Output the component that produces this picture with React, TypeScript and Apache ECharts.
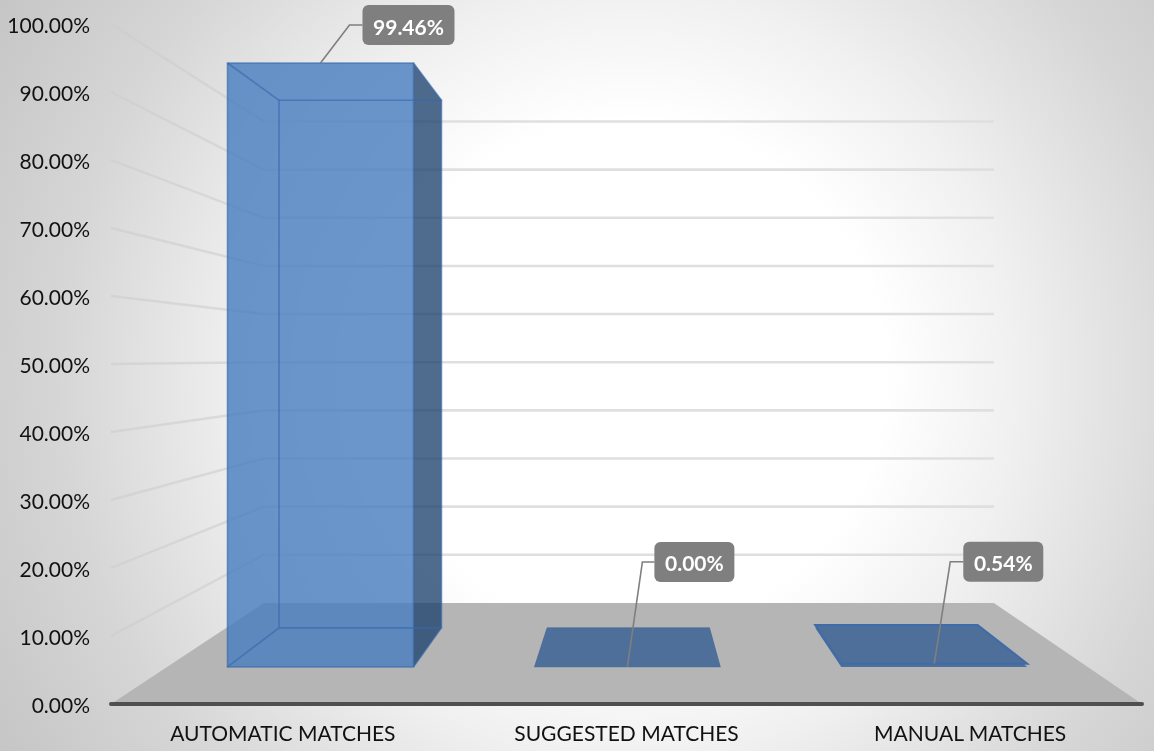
import React, { useEffect, useRef } from "react";
import * as echarts from "echarts";

const categories = ["AUTOMATIC MATCHES", "SUGGESTED MATCHES", "MANUAL MATCHES"];
const shares = [99.46, 0.0, 0.54];
const gridTicks = [10, 20, 30, 40, 50, 60, 70, 80, 90, 100];

// perspective set-up of the 3D plot (fractions of the plot area)
const VP_X = 0.508;
const VP_Y = 0.491;
const S_BACK_WALL = 0.708;
const S_BAR_FRONT = 0.893;
const S_BAR_BACK = 0.78;
const BAR_WIDTH = 0.606;
// leader elbow and label box offsets from each bar's front-top centre
const leaderOffsets = [
  { dx: 29, dy: -38, box: 42 },
  { dx: 15, dy: -105, box: 27 },
  { dx: 16, dy: -102, box: 29 },
];

const FONT = "Lato, Carlito, sans-serif";

function projector(cs: any) {
  const vx = cs.x + VP_X * cs.width;
  const vy = cs.y + VP_Y * cs.height;
  return (p: number[], s: number) => [vx + s * (p[0] - vx), vy + s * (p[1] - vy)];
}

const renderFloor = (params: any, api: any) => {
  const cs = params.coordSys;
  const pr = projector(cs);
  const bottom = api.coord([0, 0])[1];
  const l = [cs.x, bottom];
  const r = [cs.x + cs.width, bottom];
  return {
    type: "polygon",
    shape: { points: [l, r, pr(r, S_BACK_WALL), pr(l, S_BACK_WALL)] },
    style: { fill: "#b5b5b5" },
  };
};

const renderGridLine = (params: any, api: any) => {
  const cs = params.coordSys;
  const pr = projector(cs);
  const y = api.coord([0, api.value(1)])[1];
  const l = [cs.x, y];
  const r = [cs.x + cs.width, y];
  return {
    type: "group",
    children: [
      {
        type: "polyline",
        shape: { points: [l, pr(l, S_BACK_WALL)] },
        style: { stroke: "rgba(205,205,205,0.6)", lineWidth: 2.4, fill: "none" },
      },
      {
        type: "polyline",
        shape: { points: [pr(l, S_BACK_WALL), pr(r, S_BACK_WALL)] },
        style: { stroke: "#dfdfdf", lineWidth: 2.6, fill: "none" },
      },
    ],
  };
};

const renderBar = (params: any, api: any) => {
  const pr = projector(params.coordSys);
  const i = api.value(0);
  const v = api.value(1);
  const cx = api.coord([i, 0])[0];
  const half = (api.size([1, 0])[0] * BAR_WIDTH) / 2;
  const y0 = api.coord([i, 0])[1];
  const y1 = api.coord([i, v])[1];
  const LB = [cx - half, y0];
  const RB = [cx + half, y0];
  const LT = [cx - half, y1];
  const RT = [cx + half, y1];
  const f = (p: number[]) => pr(p, S_BAR_FRONT);
  const b = (p: number[]) => pr(p, S_BAR_BACK);
  const edge = { stroke: "rgba(55,105,170,0.65)", lineWidth: 1.6, fill: "none" };
  const flat = f(LB)[1] - f(LT)[1] < f(LB)[1] - b(LB)[1];
  const children: any[] = [];
  if (flat) {
    children.push({
      type: "polygon",
      shape: { points: [f(LB), f(RB), b(RB), b(LB)] },
      style: { fill: "#4d6f99" },
    });
    children.push({
      type: "polygon",
      shape: { points: [f(LT), f(RT), b(RT), b(LT)] },
      style: { fill: "#4d6f99", stroke: v > 0 ? "#3f6ca8" : "#4d6f99", lineWidth: v > 0 ? 2 : 0.5 },
    });
  } else {
    children.push({
      type: "polygon",
      shape: { points: [f(LB), f(RB), f(RT), f(LT)] },
      style: { fill: "rgba(73,126,192,0.81)" },
    });
    children.push({
      type: "polygon",
      shape: { points: [f(RT), b(RT), b(RB), f(RB)] },
      style: { fill: "rgba(30,65,110,0.78)" },
    });
    children.push({ type: "polygon", shape: { points: [b(LB), b(RB), b(RT), b(LT)] }, style: edge });
    children.push({ type: "polygon", shape: { points: [f(LB), f(RB), f(RT), f(LT)] }, style: edge });
    children.push({ type: "polyline", shape: { points: [f(LT), b(LT)] }, style: edge });
    children.push({ type: "polyline", shape: { points: [f(LB), b(LB)] }, style: edge });
    children.push({ type: "polyline", shape: { points: [f(RB), b(RB)] }, style: edge });
    children.push({ type: "polyline", shape: { points: [f(RT), b(RT)] }, style: edge });
  }
  // leader + label
  const anchor = f([cx, y1]);
  const off = leaderOffsets[i];
  const elbow = [anchor[0] + off.dx, anchor[1] + off.dy];
  const boxX = anchor[0] + off.box;
  const text = v.toFixed(2) + "%";
  const boxW = text.length * 12 + 20;
  children.push({
    type: "polyline",
    shape: { points: [anchor, elbow, [boxX, elbow[1]]] },
    style: { stroke: "#7f7f7f", lineWidth: 1.6, fill: "none" },
  });
  children.push({
    type: "rect",
    shape: { x: boxX, y: elbow[1] - 20, width: boxW, height: 40, r: 6 },
    style: { fill: "#7f7f7f" },
  });
  children.push({
    type: "text",
    style: {
      text,
      x: boxX + boxW / 2,
      y: elbow[1] + 1,
      fill: "#ffffff",
      font: `bold 21px ${FONT}`,
      align: "center",
      verticalAlign: "middle",
    },
  });
  return { type: "group", children };
};

export default function App() {
  const ref = useRef<HTMLDivElement>(null);
  useEffect(() => {
    const chart = echarts.init(ref.current!, undefined, { renderer: "svg" });
    chart.setOption({
      animation: false,
      backgroundColor: new echarts.graphic.RadialGradient(
        630,
        375,
        730,
        [
          { offset: 0, color: "#ffffff" },
          { offset: 0.35, color: "#ffffff" },
          { offset: 0.53, color: "#f0f0f0" },
          { offset: 0.78, color: "#d6d6d6" },
          { offset: 1, color: "#c6c6c6" },
        ],
        true
      ),
      grid: { left: 111, right: 12, top: 24, bottom: 47 },
      xAxis: {
        type: "category",
        data: categories,
        z: 5,
        axisTick: { show: false },
        axisLine: { lineStyle: { color: "#4f4f4f", width: 4 } },
        axisLabel: { color: "#111111", fontFamily: FONT, fontSize: 21, margin: 18 },
      },
      yAxis: {
        type: "value",
        min: 0,
        max: 100,
        interval: 10,
        splitLine: { show: false },
        axisLine: { show: false },
        axisTick: { show: false },
        axisLabel: {
          color: "#111111",
          fontFamily: FONT,
          fontSize: 21,
          margin: 21,
          padding: [0, 0, 3, 0],
          formatter: (v: number) => v.toFixed(2) + "%",
        },
      },
      series: [
        { type: "custom", silent: true, z: 1, renderItem: renderGridLine, data: gridTicks.map((t) => [0, t]) },
        { type: "custom", silent: true, z: 2, renderItem: renderFloor, data: [[0, 0]] },
        { type: "custom", silent: true, z: 3, renderItem: renderBar, data: shares.map((v, i) => [i, v]) },
      ],
    });
    return () => chart.dispose();
  }, []);
  return (
    <div
      ref={ref}
      style={{ position: "absolute", left: 0, top: 0, width: 1154, height: 751, filter: "blur(0.7px)" }}
    />
  );
}
